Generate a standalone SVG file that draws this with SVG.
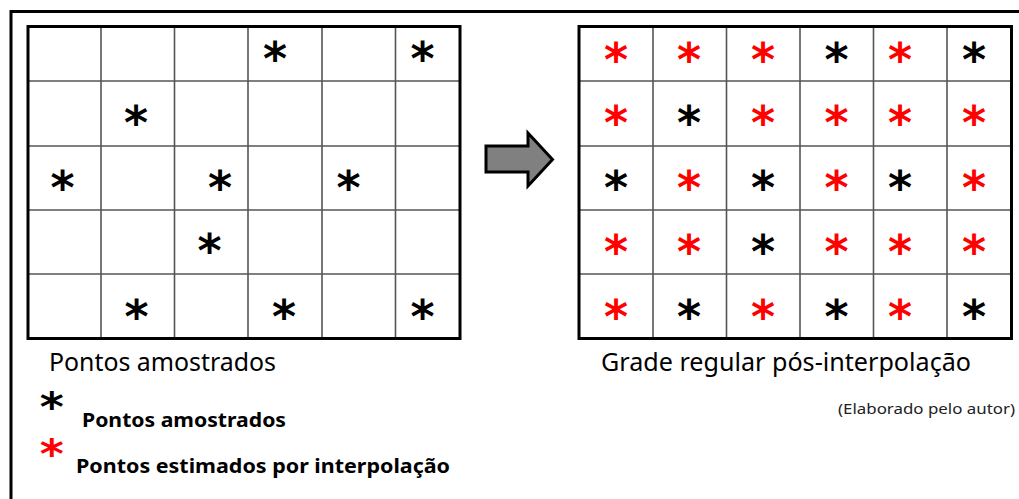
<svg xmlns="http://www.w3.org/2000/svg" width="1019" height="499" viewBox="0 0 1019 499">
<style>
.frame{fill:none;stroke:#000;stroke-width:3}
.border{fill:none;stroke:#000;stroke-width:3}
.gl{stroke:#555;stroke-width:1.6;fill:none}
.ast{font-family:"DejaVu Sans",sans-serif;font-weight:bold;font-size:46px;text-anchor:middle}
.ast2{font-family:"DejaVu Sans",sans-serif;font-weight:bold;font-size:40px;text-anchor:middle}
.k{fill:#000}
.r{fill:#ff0000}
.cap{font-family:"Noto Sans","Open Sans",sans-serif;font-size:25px;fill:#000}
.leg{font-family:"Noto Sans","Open Sans",sans-serif;font-weight:bold;font-size:20px;fill:#000}
.src{font-family:"Noto Sans","Open Sans",sans-serif;font-size:15px;fill:#222}
</style>
<rect width="1019" height="499" fill="#fff"/>
<path class="frame" d="M11,499 V11.5 H1019"/>

<g id="left-grid">
<path class="gl" d="M101,26.5V338.5 M174.5,26.5V338.5 M248,26.5V338.5 M322,26.5V338.5 M395.5,26.5V338.5 M28,81H460 M28,146H460 M28,210H460 M28,274H460"/>
<rect class="border" x="28" y="26.5" width="432" height="312"/>
<g class="ast k">
<text x="275" y="75">*</text>
<text x="422.5" y="75">*</text>
<text x="136" y="138.5">*</text>
<text x="62.5" y="203.5">*</text>
<text x="220" y="203.5">*</text>
<text x="348.5" y="203.5">*</text>
<text x="209.5" y="266.5">*</text>
<text x="136.5" y="332.5">*</text>
<text x="284" y="332.5">*</text>
<text x="422.5" y="332.5">*</text>
</g>
</g>

<g id="arrow">
<path d="M486,146 H528 V133 L552.5,159.5 L528,186 V172 H486 Z" fill="#808080" stroke="#000" stroke-width="3" stroke-linejoin="miter"/>
</g>

<g id="right-grid">
<path class="gl" d="M653,26.5V338.5 M726.5,26.5V338.5 M800,26.5V338.5 M873.5,26.5V338.5 M947,26.5V338.5 M579,81H1011.5 M579,146H1011.5 M579,210H1011.5 M579,274H1011.5"/>
<rect class="border" x="579" y="26.5" width="432.5" height="312"/>
<g class="ast">
<text class="r" x="616" y="75.5">*</text>
<text class="r" x="689" y="75.5">*</text>
<text class="r" x="763" y="75.5">*</text>
<text class="k" x="836.5" y="75.5">*</text>
<text class="r" x="900" y="75.5">*</text>
<text class="k" x="974" y="75.5">*</text>

<text class="r" x="616" y="138.5">*</text>
<text class="k" x="689" y="138.5">*</text>
<text class="r" x="763" y="138.5">*</text>
<text class="r" x="836.5" y="138.5">*</text>
<text class="r" x="900" y="138.5">*</text>
<text class="r" x="974" y="138.5">*</text>

<text class="k" x="616" y="203.5">*</text>
<text class="r" x="689" y="203.5">*</text>
<text class="k" x="763" y="203.5">*</text>
<text class="r" x="836.5" y="203.5">*</text>
<text class="k" x="900" y="203.5">*</text>
<text class="r" x="974" y="203.5">*</text>

<text class="r" x="616" y="267.5">*</text>
<text class="r" x="689" y="267.5">*</text>
<text class="k" x="763" y="267.5">*</text>
<text class="r" x="836.5" y="267.5">*</text>
<text class="r" x="900" y="267.5">*</text>
<text class="r" x="974" y="267.5">*</text>

<text class="r" x="616" y="332.5">*</text>
<text class="k" x="689" y="332.5">*</text>
<text class="r" x="763" y="332.5">*</text>
<text class="k" x="836.5" y="332.5">*</text>
<text class="r" x="900" y="332.5">*</text>
<text class="k" x="974" y="332.5">*</text>
</g>
</g>

<g id="captions">
<text class="cap" x="49" y="371" textLength="227" lengthAdjust="spacingAndGlyphs">Pontos amostrados</text>
<text class="cap" x="601" y="371" textLength="370" lengthAdjust="spacingAndGlyphs">Grade regular pós-interpolação</text>
<text class="src" x="838" y="414" textLength="177" lengthAdjust="spacingAndGlyphs">(Elaborado pelo autor)</text>
</g>

<g id="legend">
<text class="ast2 k" transform="translate(51.7,420.8) scale(1.15,1)">*</text>
<text class="leg" x="82" y="426.5" textLength="204" lengthAdjust="spacingAndGlyphs">Pontos amostrados</text>
<text class="ast2 r" transform="translate(51.7,467.8) scale(1.15,1)">*</text>
<text class="leg" x="76" y="473" textLength="374" lengthAdjust="spacingAndGlyphs">Pontos estimados por interpolação</text>
</g>
</svg>
